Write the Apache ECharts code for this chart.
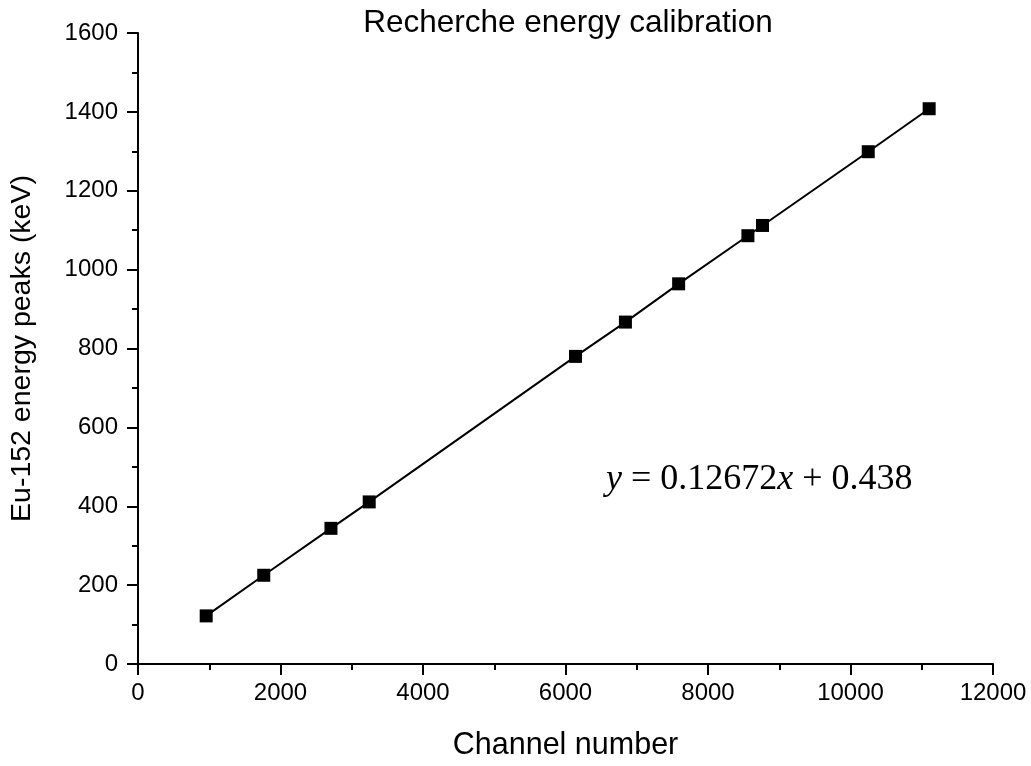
<!DOCTYPE html>
<html>
<head>
<meta charset="utf-8">
<script src="https://cdn.jsdelivr.net/npm/echarts@6/dist/echarts.min.js"></script>
<style>html,body{margin:0;padding:0;background:#fff;}#chart{width:1031px;height:766px;}</style>
</head>
<body>
<div id="chart"></div>
<script>
// Channel number (x) and Eu-152 energy peaks in keV (y)
const channels = [957, 1765, 2708, 3245, 6140, 6841, 7588, 8560, 8765, 10249, 11104];
const energies = [122, 225, 344, 411, 780, 867, 964, 1086, 1112, 1299, 1408];
const xTicks = [0, 2000, 4000, 6000, 8000, 10000, 12000];
const yTicks = [0, 200, 400, 600, 800, 1000, 1200, 1400, 1600];
const titleText = 'Recherche energy calibration';
const xName = 'Channel number';
const yName = 'Eu-152 energy peaks (keV)';
const equationText = '{i|y} = 0.12672{i|x} + 0.438';

const points = channels.map((c, i) => [c, energies[i]]);
const chart = echarts.init(document.getElementById('chart'));
const font = 'Liberation Sans, Arial, sans-serif';
const serif = 'Liberation Serif, DejaVu Serif, serif';
chart.setOption({
  animation: false,
  backgroundColor: '#fff',
  title: {
    text: titleText, left: 563, top: 2, textAlign: 'center',
    textStyle: { fontFamily: font, fontSize: 31.5, fontWeight: 'normal', color: '#000' }
  },
  grid: { left: 137, right: 38, top: 33, bottom: 100 },
  xAxis: {
    type: 'value', min: xTicks[0], max: xTicks[xTicks.length - 1], interval: 2000,
    name: xName, nameLocation: 'middle', nameGap: 66,
    nameTextStyle: { fontFamily: font, fontSize: 30.5, color: '#000' },
    axisLine: { show: true, lineStyle: { color: '#000', width: 2 } },
    axisTick: { show: true, inside: false, length: 11, lineStyle: { color: '#000', width: 2 } },
    minorTick: { show: true, splitNumber: 2, length: 6, lineStyle: { color: '#000', width: 2 } },
    axisLabel: { fontFamily: font, fontSize: 24, color: '#000', margin: 17, formatter: v => String(v) },
    splitLine: { show: false }
  },
  yAxis: {
    type: 'value', min: yTicks[0], max: yTicks[yTicks.length - 1], interval: 200,
    name: yName, nameLocation: 'middle', nameGap: 101,
    nameTextStyle: { fontFamily: font, fontSize: 28.5, color: '#000' },
    axisLine: { show: true, lineStyle: { color: '#000', width: 2 } },
    axisTick: { show: true, inside: false, length: 11, lineStyle: { color: '#000', width: 2 } },
    minorTick: { show: true, splitNumber: 2, length: 6, lineStyle: { color: '#000', width: 2 } },
    axisLabel: { fontFamily: font, fontSize: 24, color: '#000', margin: 20, formatter: v => String(v) },
    splitLine: { show: false }
  },
  graphic: [{
    type: 'text', left: 606, top: 462,
    style: {
      text: equationText,
      fontFamily: serif, fontSize: 36, fill: '#000',
      rich: { i: { fontFamily: serif, fontSize: 36, fontStyle: 'italic', color: '#000' } }
    }
  }],
  series: [{
    type: 'line', data: points,
    symbol: 'rect', symbolSize: 13,
    itemStyle: { color: '#000' },
    lineStyle: { color: '#000', width: 2 }
  }]
});
</script>
</body>
</html>
